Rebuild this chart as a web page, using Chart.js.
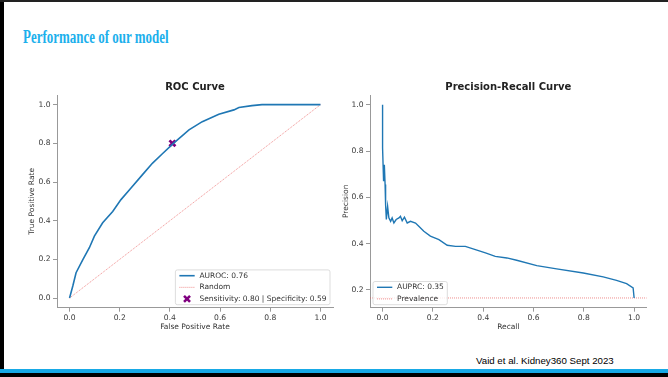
<!DOCTYPE html>
<html><head><meta charset="utf-8">
<script src="https://cdn.jsdelivr.net/npm/chart.js@4.4.0/dist/chart.umd.min.js"></script>
<style>
html,body{margin:0;padding:0;background:#fff;}
#page{position:relative;width:668px;height:377px;overflow:hidden;background:#fff;}
.bl{position:absolute;left:0;top:0;width:4px;height:377px;background:#000;}
.bt{position:absolute;left:0;top:0;width:668px;height:2px;background:#222;}
.bb{position:absolute;left:0;top:369px;width:668px;height:4px;background:#17a9e6;}
.bk{position:absolute;left:0;top:373px;width:668px;height:4px;background:#000;}
#title{position:absolute;left:23px;top:28px;font-family:"Liberation Serif";font-weight:bold;font-size:18px;line-height:18px;color:#1cb0ec;transform:scaleX(0.72);transform-origin:0 0;white-space:nowrap;}
#foot{position:absolute;left:476px;top:356px;font-family:"Liberation Sans";font-size:9.7px;line-height:9.5px;color:#000;white-space:nowrap;}
#roc{position:absolute;left:0;top:70px;}
#pr{position:absolute;left:340px;top:70px;}
</style>
</head><body>
<div id="page">
  <div id="title">Performance of our model</div>
  <canvas id="roc" width="340" height="270"></canvas>
  <canvas id="pr" width="328" height="270"></canvas>
  <div id="foot">Vaid et al. Kidney360 Sept 2023</div>
  <div class="bl"></div><div class="bt"></div><div class="bb"></div><div class="bk"></div>
</div>
<script>
// ---------- data ----------
const rocFpr = [0, 0.013, 0.026, 0.053, 0.079, 0.099, 0.132, 0.172, 0.205, 0.245, 0.29, 0.331, 0.37, 0.414, 0.476, 0.529, 0.595, 0.655, 0.675, 0.727, 0.767, 1.0];
const rocTpr = [0, 0.062, 0.131, 0.199, 0.26, 0.32, 0.389, 0.448, 0.509, 0.569, 0.637, 0.698, 0.746, 0.80, 0.87, 0.912, 0.95, 0.973, 0.985, 0.995, 1.0, 1.0];
const randomX = [0, 1];
const randomY = [0, 1];
const opFpr = [0.41];
const opTpr = [0.80];
const prRecall = [0, 0, 0.004, 0.007, 0.01, 0.012, 0.015, 0.02, 0.025, 0.032, 0.038, 0.045, 0.054, 0.065, 0.071, 0.078, 0.087, 0.098, 0.111, 0.131, 0.144, 0.164, 0.19, 0.224, 0.257, 0.29, 0.329, 0.369, 0.409, 0.448, 0.494, 0.533, 0.613, 0.692, 0.798, 0.877, 0.93, 0.97, 0.996, 1.0];
const prPrecision = [1.0, 0.813, 0.669, 0.741, 0.655, 0.568, 0.504, 0.561, 0.511, 0.496, 0.511, 0.489, 0.504, 0.511, 0.518, 0.499, 0.514, 0.489, 0.496, 0.489, 0.475, 0.453, 0.432, 0.417, 0.393, 0.388, 0.388, 0.374, 0.36, 0.345, 0.338, 0.328, 0.305, 0.291, 0.273, 0.256, 0.241, 0.227, 0.209, 0.165];
const prevalence = 0.165;
const unitTicks = [0, 0.2, 0.4, 0.6, 0.8, 1.0];
const prYTicks = [0.2, 0.4, 0.6, 0.8, 1.0];
const rocXRange = [-0.05, 1.05];
const rocYRange = [-0.05, 1.05];
const prXRange = [-0.05, 1.05];
const prYRange = [0.123, 1.042];
const rocLabels = ['AUROC: 0.76', 'Random', 'Sensitivity: 0.80 | Specificity: 0.59'];
const prLabels = ['AUPRC: 0.35', 'Prevalence'];

// ---------- helpers ----------
const pts = (xs, ys) => xs.map((x, i) => ({x, y: ys[i]}));
const BLUE = '#1f77b4', RED = 'rgba(232,90,90,0.75)', PURPLE = '#800080', SPINE = '#999';
const FONT = 'DejaVu Sans';

const boxLegend = {
  id: 'boxLegend',
  afterDraw(chart, args, opts) {
    if (!opts || !opts.corner) return;
    const {ctx, chartArea: a} = chart;
    const items = chart.data.datasets.filter(d => d.label);
    ctx.save();
    ctx.font = '7.5px "' + FONT + '"';
    const textW = Math.max(...items.map(d => ctx.measureText(d.label).width));
    const padL = 4, handle = 15.3, gap = 4.7, padR = 3.5, rowH = 11.6;
    const w = padL + handle + gap + textW + padR;
    const h = items.length * rowH;
    const x = opts.corner === 'lr' ? a.right - opts.pad - w : a.left + opts.pad;
    const y = a.bottom - opts.pad - h;
    ctx.beginPath();
    ctx.roundRect(x, y, w, h, 2);
    ctx.fillStyle = 'rgba(255,255,255,0.8)';
    ctx.fill();
    ctx.strokeStyle = '#d4d4d4';
    ctx.lineWidth = 0.8;
    ctx.stroke();
    items.forEach((d, i) => {
      const cy = y + rowH * (i + 0.5);
      const hx = x + padL;
      if (d.showLine) {
        ctx.beginPath();
        ctx.setLineDash(d.borderDash || []);
        ctx.strokeStyle = d.borderColor;
        ctx.lineWidth = d.borderWidth;
        ctx.moveTo(hx, cy); ctx.lineTo(hx + handle, cy);
        ctx.stroke();
        ctx.setLineDash([]);
      } else {
        const cx = hx + handle / 2, r = 3;
        ctx.beginPath();
        ctx.strokeStyle = d.borderColor;
        ctx.lineWidth = 2.6;
        ctx.moveTo(cx - r, cy - r); ctx.lineTo(cx + r, cy + r);
        ctx.moveTo(cx - r, cy + r); ctx.lineTo(cx + r, cy - r);
        ctx.stroke();
      }
      ctx.fillStyle = '#333';
      ctx.textAlign = 'left';
      ctx.textBaseline = 'middle';
      ctx.fillText(d.label, hx + handle + gap, cy);
    });
    ctx.restore();
  }
};

function axis(range, ticks, title, titlePad, fitKey, fitVal) {
  return {
    type: 'linear',
    min: range[0], max: range[1],
    afterBuildTicks: s => { s.ticks = ticks.map(v => ({value: v})); },
    afterFit: s => { s[fitKey] = fitVal; },
    ticks: {callback: v => Number(v).toFixed(1), color: '#3a3a3a', font: {family: FONT, size: 7.6}, padding: fitKey === 'width' ? 2.5 : 1.5, autoSkip: false, maxRotation: 0},
    grid: {display: true, drawOnChartArea: false, drawTicks: true, tickLength: 4, color: SPINE, lineWidth: 1},
    border: {display: true, color: SPINE, width: 1},
    title: {display: true, text: title, color: '#333', font: {family: FONT, size: 7.5}, padding: titlePad}
  };
}

function titleOpts(text) {
  return {display: true, text, fullSize: false, color: '#222', font: {family: FONT, size: 10, weight: 'bold'}, padding: {top: 11, bottom: 2}};
}

new Chart(document.getElementById('roc'), {
  type: 'scatter',
  data: {datasets: [
    {label: rocLabels[0], data: pts(rocFpr, rocTpr), showLine: true, borderColor: BLUE, borderWidth: 1.6, pointRadius: 0, tension: 0},
    {label: rocLabels[1], data: pts(randomX, randomY), showLine: true, borderColor: RED, borderWidth: 0.9, borderDash: [1, 1], pointRadius: 0},
    {label: rocLabels[2], data: pts(opFpr, opTpr), showLine: false, pointStyle: 'crossRot', pointRadius: 4.2, borderColor: PURPLE, backgroundColor: PURPLE, pointBorderWidth: 2.8}
  ]},
  options: {
    responsive: false, animation: false, devicePixelRatio: 1,
    layout: {padding: {left: 0, right: 6, top: 0, bottom: 0}},
    plugins: {legend: {display: false}, tooltip: {enabled: false}, title: titleOpts('ROC Curve'), boxLegend: {corner: 'lr', pad: 3}},
    scales: {
      x: axis(rocXRange, unitTicks, 'False Positive Rate', {top: 0, bottom: 8.5}, 'height', 32.3),
      y: axis(rocYRange, unitTicks, 'True Positive Rate', {top: 27.2, bottom: 0}, 'width', 57)
    }
  },
  plugins: [boxLegend]
});

new Chart(document.getElementById('pr'), {
  type: 'scatter',
  data: {datasets: [
    {label: prLabels[0], data: pts(prRecall, prPrecision), showLine: true, borderColor: BLUE, borderWidth: 1.4, pointRadius: 0, tension: 0},
    {label: prLabels[1], data: pts(prXRange, [prevalence, prevalence]), showLine: true, borderColor: RED, borderWidth: 0.9, borderDash: [1, 1], pointRadius: 0}
  ]},
  options: {
    responsive: false, animation: false, devicePixelRatio: 1,
    layout: {padding: {left: 0, right: 21.3, top: 0, bottom: 0}},
    plugins: {legend: {display: false}, tooltip: {enabled: false}, title: titleOpts('Precision-Recall Curve'), boxLegend: {corner: 'll', pad: 3}},
    scales: {
      x: axis(prXRange, unitTicks, 'Recall', {top: 0, bottom: 8.5}, 'height', 32.3),
      y: axis(prYRange, prYTicks, 'Precision', {top: 1.8, bottom: 0}, 'width', 30)
    }
  },
  plugins: [boxLegend]
});
</script>
</body></html>
